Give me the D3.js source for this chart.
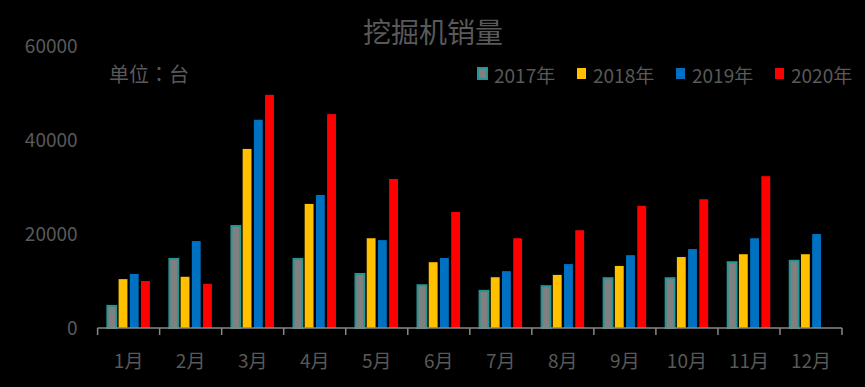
<!DOCTYPE html>
<html>
<head>
<meta charset="utf-8">
<script src="https://cdn.jsdelivr.net/npm/d3@7"></script>
<style>
  body { margin: 0; background: #000; }
  text { font-family: "Noto Sans CJK SC", "Noto Sans", sans-serif; fill: #595959; }
</style>
</head>
<body>
<script>
// data
let months = ["1月","2月","3月","4月","5月","6月","7月","8月","9月","10月","11月","12月"];
let years = ["2017年","2018年","2019年","2020年"];
let sales2017 = [4700, 14700, 21700, 14700, 11500, 9100, 7900, 8900, 10600, 10600, 14000, 14300];
let sales2018 = [10400, 10900, 38100, 26400, 19100, 14000, 10800, 11300, 13200, 15100, 15700, 15700];
let sales2019 = [11500, 18500, 44300, 28300, 18700, 14900, 12100, 13600, 15500, 16800, 19100, 20000];
let sales2020 = [10000, 9400, 49600, 45500, 31700, 24700, 19100, 20800, 26000, 27400, 32300, null];
let yTicks = [0, 20000, 40000, 60000];

function createChart(){
    let allSeries = [sales2017, sales2018, sales2019, sales2020];
    let colors = ["#808080", "#FFC000", "#0070C0", "#FF0000"];

    let width = 865, height = 387;
    let margin = {top: 46, right: 23, bottom: 59, left: 97.6};
    let innerW = width - margin.left - margin.right,
        innerH = height - margin.top - margin.bottom;

    let svg = d3.select("body").append("svg")
      .attr("width", width)
      .attr("height", height)
      .style("background", "#000");

    let g = svg.append("g")
      .attr("transform", "translate(" + margin.left + "," + margin.top + ")");

    let x0 = d3.scaleBand().domain(months).range([0, innerW]).padding(0);
    let x1 = d3.scaleBand().domain(years).range([0, x0.bandwidth()])
      .paddingInner(0.21).paddingOuter(0.87);
    let y = d3.scaleLinear().domain([0, 60000]).range([innerH, 0]);

    // bars
    let rows = [];
    for (let i = 0; i < months.length; i++){
        for (let s = 0; s < years.length; s++){
            if (allSeries[s][i] != null) {
                rows.push({month: months[i], year: years[s], value: allSeries[s][i], idx: s});
            }
        }
    }

    g.selectAll(".bar")
      .data(rows)
      .enter().append("rect")
      .attr("class", "bar")
      .attr("x", function(d) { return x0(d.month) + x1(d.year); })
      .attr("width", x1.bandwidth())
      .attr("y", function(d) { return y(d.value); })
      .attr("height", function(d) { return innerH - y(d.value); })
      .attr("fill", function(d) { return colors[d.idx]; })
      .attr("stroke", function(d) { return d.idx === 0 ? "#259494" : "none"; })
      .attr("stroke-width", 2);

    // y tick labels (no axis line)
    g.selectAll(".ylab")
      .data(yTicks)
      .enter().append("text")
      .attr("x", -20)
      .attr("y", function(d) { return y(d) - 1.5; })
      .attr("text-anchor", "end")
      .attr("dominant-baseline", "central")
      .style("font-size", "19px")
      .text(function(d) { return d; });

    // x axis line + ticks between categories
    g.append("line")
      .attr("x1", 0).attr("x2", innerW)
      .attr("y1", innerH).attr("y2", innerH)
      .attr("stroke", "#888").attr("stroke-width", 1.5);

    let bounds = months.map(function(m) { return x0(m); }).concat([innerW]);
    g.selectAll(".xtick")
      .data(bounds)
      .enter().append("line")
      .attr("x1", function(d) { return d; })
      .attr("x2", function(d) { return d; })
      .attr("y1", innerH).attr("y2", innerH + 7)
      .attr("stroke", "#888").attr("stroke-width", 1.5);

    g.selectAll(".xlab")
      .data(months)
      .enter().append("text")
      .attr("x", function(d) { return x0(d) + x0.bandwidth() / 2; })
      .attr("y", innerH + 31)
      .attr("text-anchor", "middle")
      .attr("dominant-baseline", "central")
      .style("font-size", "19px")
      .text(function(d) { return d; });

    // title
    svg.append("text")
      .attr("x", 433).attr("y", 31)
      .attr("text-anchor", "middle")
      .attr("dominant-baseline", "central")
      .style("font-size", "28px")
      .text("挖掘机销量");

    // unit label, TC face keeps the full-width colon centred
    svg.append("text")
      .attr("x", 109).attr("y", 73)
      .attr("dominant-baseline", "central")
      .style("font-size", "20px")
      .style("font-family", "'Noto Sans CJK TC', 'Noto Sans CJK SC', sans-serif")
      .text("单位：台");

    // legend
    let legend = svg.selectAll(".legend")
      .data(years)
      .enter().append("g")
      .attr("transform", function(d, i) { return "translate(" + (478 + i * 99) + ",68)"; });

    legend.append("rect")
      .attr("width", 9).attr("height", 11)
      .attr("fill", function(d, i) { return colors[i]; })
      .attr("stroke", function(d, i) { return i === 0 ? "#259494" : "none"; })
      .attr("stroke-width", 2);

    legend.append("text")
      .attr("x", 16).attr("y", 6)
      .attr("dominant-baseline", "central")
      .style("font-size", "19px")
      .text(function(d) { return d; });
}
createChart();
</script>
</body>
</html>
